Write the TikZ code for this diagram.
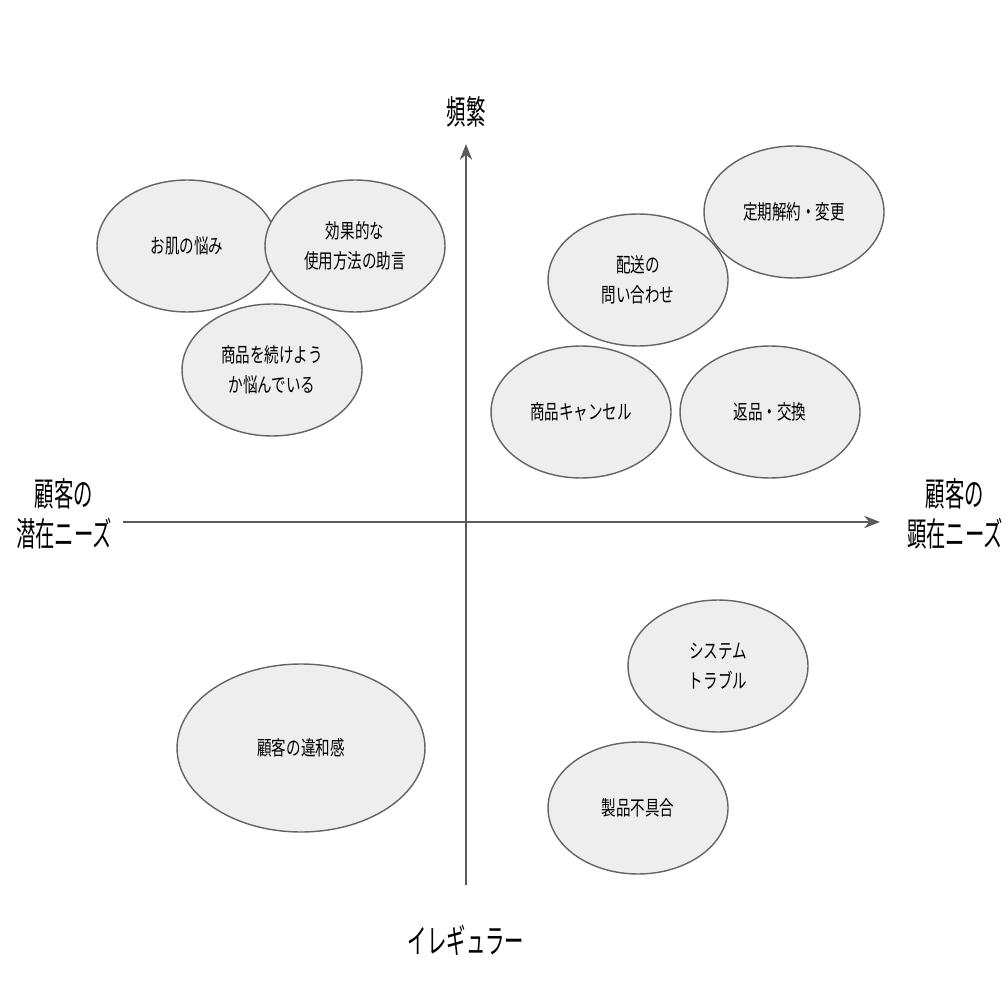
\documentclass[tikz,border=0pt]{standalone}
\usepackage{fontspec}
\setmainfont[FakeStretch=0.72]{Noto Sans CJK JP}
\newfontfamily\axisfont[FakeStretch=0.58]{Noto Sans CJK JP}
\usepackage{tikz}
\usetikzlibrary{arrows.meta, positioning, shapes.geometric}
\definecolor{bubblefill}{RGB}{238,238,238}
\definecolor{bubbleline}{RGB}{100,100,100}
\definecolor{axisgray}{RGB}{90,90,90}
\tikzset{
  bubble/.style={ellipse, draw=bubbleline, thick, fill=bubblefill, align=center,
                 inner sep=0pt, minimum width=3.6cm, minimum height=2.64cm,
                 font=\fontsize{11.5}{17}\selectfont, text=black},
  bigbubble/.style={bubble, minimum width=4.96cm, minimum height=3.36cm},
  axislabel/.style={align=center, font=\axisfont\fontsize{19}{22.5}\selectfont, text=black},
  axisarrow/.style={-{Stealth[length=9pt, width=7pt]}, draw=axisgray, line width=0.9pt},
}
\begin{document}
\begin{tikzpicture}[x=0.02cm, y=-0.02cm]
\useasboundingbox (0,0) rectangle (1006,1006);
% axes
\coordinate (left) at (123,522);
\coordinate (right) at (880,522);
\coordinate (bottom) at (466,885);
\coordinate (top) at (466,144);
\draw[axisarrow] (left) -- (right);
\draw[axisarrow] (bottom) -- (top);
\node[axislabel] (freq) at (466,112) {頻繁};
\node[axislabel] (irreg) at (466,940) {イレギュラー};
\node[axislabel] (latent) at (64,514) {顧客の\\潜在ニーズ};
\node[axislabel] (overt) at (955,514) {顧客の\\顕在ニーズ};
% upper left
\node[bubble] (skin) at (187,246) {お肌の悩み};
\node[bubble] (usage) at (355,246) {効果的な\\使用方法の助言};
\node[bubble] (doubt) at (272,370) {商品を続けよう\\か悩んでいる};
% upper right
\node[bubble] (sub) at (794,212) {定期解約・変更};
\node[bubble] (ship) at (638,280) {配送の\\問い合わせ};
\node[bubble] (cancel) at (581,412) {商品キャンセル};
\node[bubble] (ret) at (770,412) {返品・交換};
% lower
\node[bigbubble] (odd) at (301,748) {顧客の違和感};
\node[bubble] (sys) at (718,666) {システム\\トラブル};
\node[bubble] (defect) at (638,808) {製品不具合};
\end{tikzpicture}
\end{document}
